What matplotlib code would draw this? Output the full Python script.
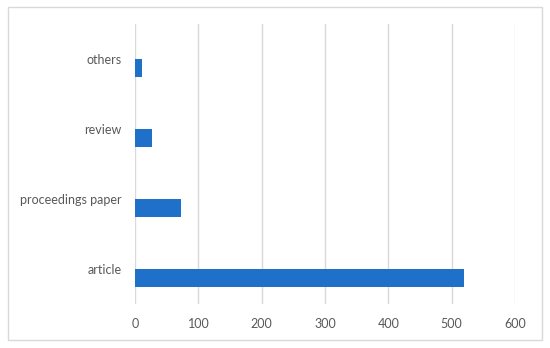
import numpy as np
import matplotlib.pyplot as plt

plt.rcParams['font.family'] = ['Lato', 'DejaVu Sans']

categories = ["article", "proceedings paper", "review", "others"]
counts = [520, 73, 27, 11]
xticks = [0, 100, 200, 300, 400, 500, 600]

fig = plt.figure(figsize=(5.5, 3.48), dpi=100)
ax = fig.add_axes([0.2455, 0.1264, 0.6909, 0.8046])

y = np.arange(len(categories))
bar_h = 0.26
ax.barh(y - bar_h, counts, height=bar_h, align='edge', color="#1f70c8", zorder=3)

ax.set_xlim(0, 600)
ax.set_ylim(-0.5, len(categories) - 0.5)
ax.set_xticks(xticks)
ax.set_yticks(y)
ax.set_yticklabels(categories)
ax.grid(axis='x', color="#d9d9d9", linewidth=1, zorder=0)
ax.tick_params(length=0, labelsize=9, labelcolor="#595959")
ax.tick_params(axis='x', pad=10)
ax.tick_params(axis='y', pad=9.4)
for s in ax.spines.values():
    s.set_visible(False)

# outer chart border
fig.patches.append(plt.Rectangle((8 / 550, 8 / 348), 534 / 550, 333 / 348,
                                 transform=fig.transFigure, fill=False,
                                 edgecolor="#d9d9d9", linewidth=1))

plt.savefig("out.png", dpi=100)
